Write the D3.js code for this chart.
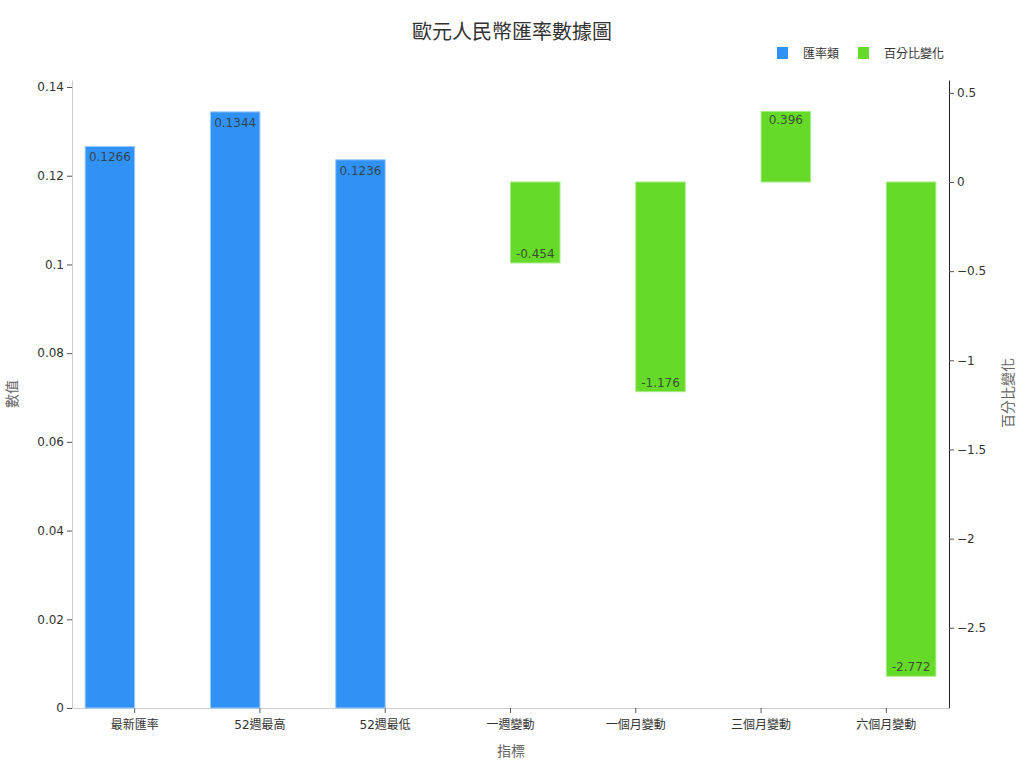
<!DOCTYPE html>
<html><head><meta charset="utf-8">
<script src="https://cdn.jsdelivr.net/npm/d3@7"></script>
<style>
body{margin:0;background:#fff;}
svg{font-family:"DejaVu Sans","Noto Sans CJK TC",sans-serif;}
</style></head>
<body><svg id="c" width="1024" height="768"></svg>
<script>
const categories = ["最新匯率","52週最高","52週最低","一週變動","一個月變動","三個月變動","六個月變動"];
const rateValues = [0.1266, 0.1344, 0.1236, null, null, null, null];
const pctValues = [null, null, null, -0.454, -1.176, 0.396, -2.772];
const leftTicks = [0, 0.02, 0.04, 0.06, 0.08, 0.1, 0.12, 0.14];
const rightTicks = [0.5, 0, -0.5, -1, -1.5, -2, -2.5];
const seriesNames = ["匯率類","百分比變化"];
const seriesColors = ["#3192f6","#66da28"];

const FONT = "'DejaVu Sans','Noto Sans CJK TC',sans-serif";
const CJK = "'Noto Sans CJK TC',sans-serif";
const svg = d3.select("#c");
const L = 72, R = 949, T = 80, B = 708;
const x = d3.scaleBand().domain(categories).range([L, R]).padding(0);
const yL = d3.scaleLinear().domain([0, 0.14158]).range([B, T]);
const yR = d3.scaleLinear().domain([-2.950, 0.572]).range([B, T]);
const bw = x.bandwidth() * 0.395;

// title
svg.append("text").attr("x", 512).attr("y", 39).attr("text-anchor","middle")
  .attr("font-size", 20).attr("fill","#333").attr("font-family",CJK).text("歐元人民幣匯率數據圖");

// legend
const lg = svg.append("g").attr("font-family",CJK);
const legX = [777, 858];
seriesNames.forEach((n,i)=>{
  lg.append("rect").attr("x", legX[i]).attr("y", 47).attr("width", 11).attr("height", 12).attr("fill", seriesColors[i]);
  lg.append("text").attr("x", legX[i]+26).attr("y", 58).attr("font-size", 12).attr("fill","#333").text(n);
});

// axes
const axL = svg.append("g").attr("transform",`translate(${L},0)`)
  .call(d3.axisLeft(yL).tickValues(leftTicks).tickFormat(d3.format("~g")).tickSize(5).tickSizeOuter(0));
axL.attr("font-family", FONT);
axL.select(".domain").attr("stroke","#ccc");
axL.selectAll(".tick line").attr("stroke","#555");
axL.selectAll("text").attr("font-size",12).attr("fill","#333");

const axR = svg.append("g").attr("transform",`translate(${R},0)`)
  .call(d3.axisRight(yR).tickValues(rightTicks).tickFormat(d3.format("~g")).tickSize(5).tickSizeOuter(0));
axR.attr("font-family", FONT);
axR.select(".domain").attr("stroke","#222");
axR.selectAll(".tick line").attr("stroke","#555");
axR.selectAll("text").attr("font-size",12).attr("fill","#333");

const axB = svg.append("g").attr("transform",`translate(0,${B})`)
  .call(d3.axisBottom(x).tickSize(5).tickSizeOuter(0));
axB.attr("font-family", FONT);
axB.select(".domain").attr("stroke","#ccc");
axB.selectAll(".tick line").attr("stroke","#555");
axB.selectAll("text").attr("font-size",12).attr("fill","#333").attr("dy","1.05em");

// axis titles
svg.append("text").attr("transform","translate(17,394) rotate(-90)").attr("text-anchor","middle")
  .attr("font-size",14).attr("fill","#666").attr("font-family",CJK).text("數值");
svg.append("text").attr("x",511).attr("y",756).attr("text-anchor","middle")
  .attr("font-size",14).attr("fill","#666").attr("font-family",CJK).text("指標");
svg.append("text").attr("transform","translate(1013,393) rotate(-90)").attr("text-anchor","middle")
  .attr("font-size",14).attr("fill","#666").attr("font-family",CJK).text("百分比變化");

// bars
const rateData = categories.map((c,i)=>({c, v: rateValues[i]})).filter(d=>d.v!=null);
const pctData = categories.map((c,i)=>({c, v: pctValues[i]})).filter(d=>d.v!=null);

svg.append("g").selectAll("rect").data(rateData).join("rect")
  .attr("x", d=>x(d.c)+x.bandwidth()/2-bw).attr("width", bw)
  .attr("y", d=>yL(d.v)).attr("height", d=>yL(0)-yL(d.v))
  .attr("fill", seriesColors[0]).attr("stroke","#9cc9fb").attr("stroke-width",1);

svg.append("g").selectAll("rect").data(pctData).join("rect")
  .attr("x", d=>x(d.c)+x.bandwidth()/2).attr("width", bw)
  .attr("y", d=>Math.min(yR(d.v), yR(0))).attr("height", d=>Math.abs(yR(0)-yR(d.v)))
  .attr("fill", seriesColors[1]).attr("stroke","#a6e985").attr("stroke-width",1);

// labels
svg.append("g").attr("font-family",FONT).selectAll("text").data(rateData).join("text")
  .attr("x", d=>x(d.c)+x.bandwidth()/2-bw/2).attr("y", d=>yL(d.v)+15)
  .attr("text-anchor","middle").attr("font-size",12).attr("fill","#333").attr("fill-opacity",0.85)
  .text(d=>d.v);
svg.append("g").attr("font-family",FONT).selectAll("text").data(pctData).join("text")
  .attr("x", d=>x(d.c)+x.bandwidth()/2+bw/2)
  .attr("y", d=> d.v>=0 ? yR(d.v)+13 : yR(d.v)-5)
  .attr("text-anchor","middle").attr("font-size",12).attr("fill","#333").attr("fill-opacity",0.85)
  .text(d=>String(d.v));
</script></body></html>
